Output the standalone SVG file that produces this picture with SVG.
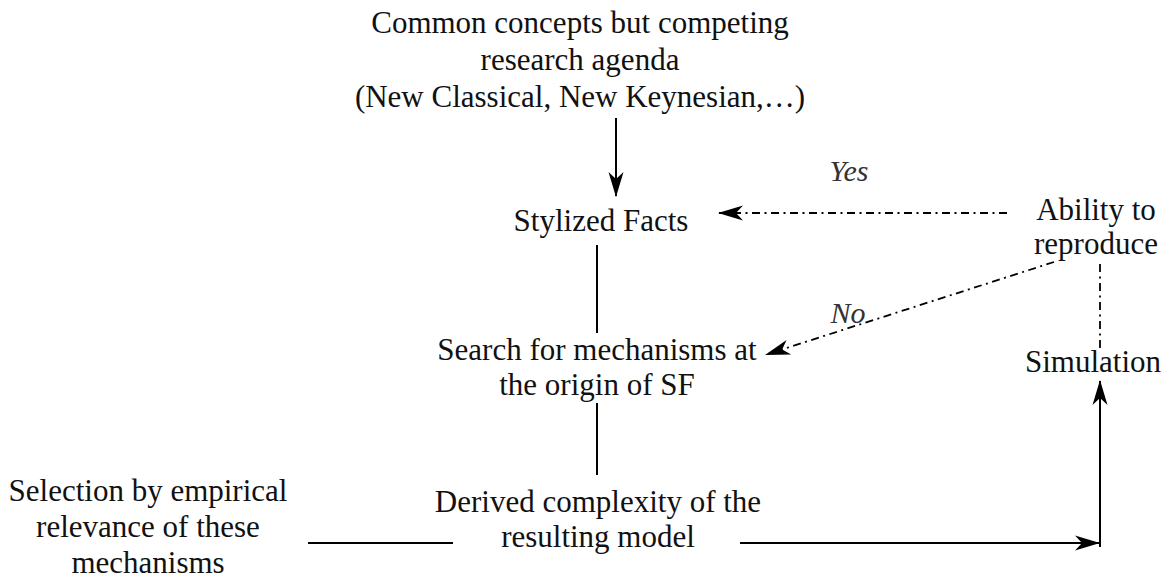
<svg xmlns="http://www.w3.org/2000/svg" width="1167" height="580" viewBox="0 0 1167 580">
<style>
text{font-family:"Liberation Serif","Times New Roman",serif;font-size:31px;fill:#111;text-anchor:middle}
.lbl{font-style:italic;font-size:30px;fill:#333}
.solid{stroke:#000;stroke-width:2;fill:none}
.dd{stroke:#000;stroke-width:1.8;fill:none;stroke-dasharray:8 4.5 2 4.5}
</style>
<defs>
<marker id="ah" viewBox="-25 -10 27 20" refX="0" refY="0" markerWidth="27" markerHeight="20" markerUnits="userSpaceOnUse" orient="auto">
<path d="M1,0 L-24,-7.5 L-17,0 L-24,7.5 Z" fill="#000"/>
</marker>
</defs>
<rect width="1167" height="580" fill="#fff"/>
<g id="node-research">
<text x="580" y="33">Common concepts but competing</text>
<text x="580" y="70">research agenda</text>
<text x="580" y="107">(New Classical, New Keynesian,…)</text>
</g>
<g id="node-stylized">
<text x="601" y="231">Stylized Facts</text>
</g>
<g id="node-search">
<text x="597" y="360">Search for mechanisms at</text>
<text x="597" y="395">the origin of SF</text>
</g>
<g id="node-derived">
<text x="598" y="512">Derived complexity of the</text>
<text x="598" y="547">resulting model</text>
</g>
<g id="node-selection">
<text x="148" y="501">Selection by empirical</text>
<text x="148" y="537">relevance of these</text>
<text x="148" y="573">mechanisms</text>
</g>
<g id="node-ability">
<text x="1096" y="220">Ability to</text>
<text x="1096" y="254">reproduce</text>
</g>
<g id="node-simulation">
<text x="1093" y="372">Simulation</text>
</g>
<g id="connectors">
<path class="solid" d="M616,118 V196" marker-end="url(#ah)"/>
<path class="solid" d="M597,245 V333"/>
<path class="solid" d="M597,403 V475"/>
<path class="solid" d="M308,543 H453"/>
<path class="solid" d="M740,543 H1099" marker-end="url(#ah)"/>
<path class="solid" d="M1100,547 V381" marker-end="url(#ah)"/>
<path class="dd" d="M1007,213 H719" marker-end="url(#ah)"/>
<path class="dd" d="M1054,262 L766,354.6" marker-end="url(#ah)"/>
<path class="dd" d="M1100,264 V352"/>
<text class="lbl" x="849" y="181">Yes</text>
<text class="lbl" x="848" y="323">No</text>
</g>
</svg>
